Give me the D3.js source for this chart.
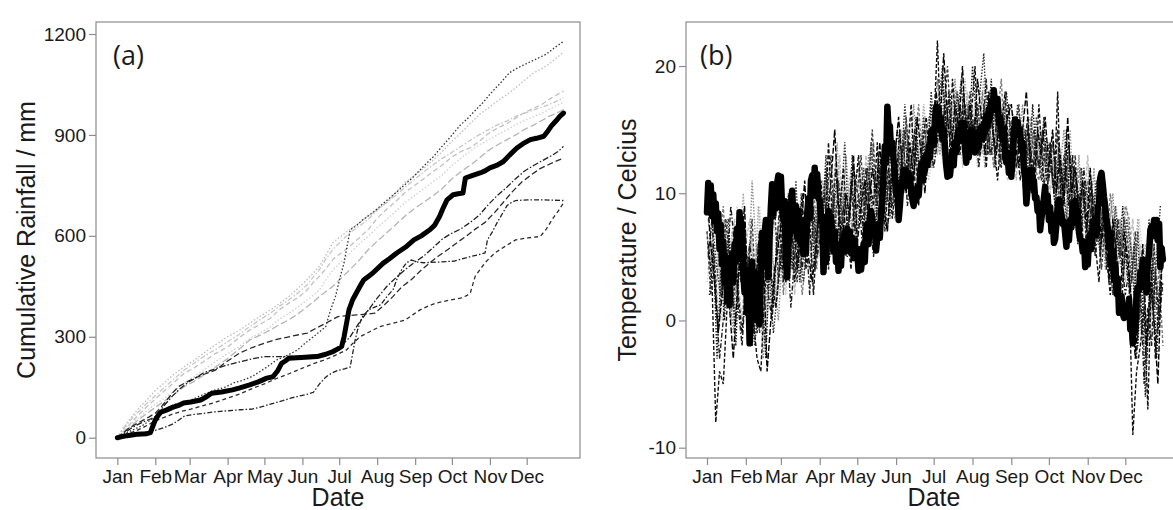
<!DOCTYPE html>
<html><head><meta charset="utf-8">
<script src="https://cdn.jsdelivr.net/npm/d3@7"></script>
<style>
html,body{margin:0;padding:0;background:#fff;}
svg{display:block;font-family:"Liberation Sans",Arial,sans-serif;}
</style></head>
<body><svg id="c" width="1173" height="510"></svg>
<script>
// ---------- shared ----------
const monthLabels = ["Jan","Feb","Mar","Apr","May","Jun","Jul","Aug","Sep","Oct","Nov","Dec"];
const monthStartDays = [0,31,59,90,120,151,181,212,243,273,304,334];

// ---------- panel (a): cumulative rainfall, [day, mm] ----------
const rainTicks = [0,300,600,900,1200];
const rainMean = [[0,0],[4,3],[8,6],[12,8],[16,10],[20,11],[24,12],[27,15],[28,25],[31,53],[34,70],[36,77],[40,82],[45,90],[50,96],[54,103],[60,106],[68,112],[72,120],[77,132],[85,136],[94,142],[100,148],[108,157],[115,166],[122,177],[127,181],[131,200],[134,221],[137,228],[140,236],[150,238],[163,241],[170,248],[176,256],[180,264],[183,271],[185,300],[186,320],[188,360],[189,380],[192,410],[195,430],[198,450],[201,469],[208,488],[217,519],[222,532],[228,549],[235,566],[242,588],[248,600],[255,618],[259,632],[263,658],[266,684],[269,707],[274,722],[278,725],[282,727],[283,750],[284,772],[290,780],[296,787],[300,793],[304,802],[310,810],[315,821],[320,840],[326,861],[331,874],[337,886],[342,890],[348,896],[351,910],[354,926],[358,942],[361,955],[364,965]];
const rainD1 = [[0,0],[6,12],[12,22],[20,35],[31,62],[38,80],[45,97],[52,104],[60,112],[70,128],[80,142],[88,150],[95,163],[102,170],[110,182],[120,205],[130,231],[139,245],[147,261],[153,280],[160,300],[166,318],[170,330],[174,380],[178,420],[182,480],[185,520],[188,580],[190,618],[195,630],[200,647],[208,668],[215,690],[222,712],[230,737],[240,770],[250,807],[258,836],[265,866],[272,895],[280,930],[285,946],[290,965],[298,995],[305,1025],[312,1052],[320,1085],[327,1100],[335,1114],[342,1126],[350,1140],[357,1160],[364,1178]];
const rainD2 = [[0,0],[5,15],[10,30],[16,42],[20,50],[26,62],[31,73],[36,92],[40,110],[45,133],[50,152],[58,168],[65,180],[72,190],[80,201],[90,228],[100,252],[110,268],[120,281],[130,292],[140,300],[148,306],[155,311],[162,325],[170,340],[175,350],[180,360],[188,363],[195,365],[203,367],[210,370],[218,395],[225,420],[232,448],[240,470],[247,495],[255,520],[262,540],[270,560],[278,582],[285,600],[292,620],[300,640],[308,670],[315,700],[322,730],[330,760],[338,782],[345,800],[352,812],[358,822],[364,831]];
const rainD3 = [[0,0],[5,12],[10,25],[15,36],[20,45],[26,54],[31,62],[38,95],[44,120],[50,142],[58,165],[65,180],[70,192],[80,205],[88,214],[95,221],[105,230],[112,236],[120,241],[135,241],[150,243],[162,246],[175,251],[182,270],[190,300],[197,340],[205,380],[212,415],[220,450],[228,478],[235,500],[242,520],[250,540],[258,566],[265,590],[272,606],[280,620],[288,640],[295,660],[302,690],[310,720],[318,745],[325,770],[332,792],[340,810],[348,826],[355,840],[360,852],[364,866]];
const rainD4 = [[0,0],[8,6],[14,11],[20,15],[26,19],[31,22],[38,30],[45,40],[50,52],[55,65],[62,69],[70,72],[80,77],[90,80],[100,83],[110,85],[118,92],[125,100],[135,110],[142,118],[150,125],[156,130],[160,135],[165,160],[170,180],[175,192],[180,200],[186,205],[190,210],[192,250],[194,290],[196,320],[198,342],[200,360],[205,380],[210,388],[215,395],[220,420],[225,440],[228,470],[232,500],[236,520],[240,528],[245,522],[250,520],[262,522],[275,525],[288,538],[300,549],[302,588],[306,612],[310,640],[314,665],[318,690],[322,700],[325,705],[335,707],[345,707],[355,706],[364,705]];
const rainD5 = [[0,0],[7,10],[15,20],[22,32],[31,50],[38,60],[45,70],[52,78],[60,85],[70,95],[80,105],[90,118],[100,130],[110,146],[120,160],[130,176],[140,190],[150,205],[160,220],[168,230],[175,240],[181,250],[187,261],[192,280],[198,300],[206,315],[214,330],[225,340],[235,350],[241,365],[247,380],[254,392],[260,400],[270,408],[280,415],[285,422],[288,430],[290,455],[292,480],[296,500],[300,520],[304,535],[308,549],[316,568],[325,588],[335,594],[345,598],[350,620],[355,650],[360,675],[364,698]];
const rainG1 = [[0,0],[4,25],[8,45],[13,68],[18,90],[24,112],[31,140],[38,162],[45,185],[54,210],[62,228],[70,250],[80,276],[90,300],[99,318],[108,340],[116,360],[125,380],[132,398],[140,420],[148,446],[155,470],[165,510],[171,548],[176,580],[183,600],[190,620],[198,640],[205,660],[212,678],[220,700],[228,732],[235,760],[242,778],[250,800],[258,826],[265,850],[272,878],[280,905],[288,934],[295,960],[302,978],[310,1000],[318,1020],[325,1040],[332,1062],[340,1085],[346,1096],[352,1110],[358,1128],[364,1146]];
const rainG2 = [[0,0],[4,14],[8,30],[13,52],[18,70],[24,92],[31,115],[38,138],[45,160],[54,190],[62,206],[70,225],[80,250],[90,270],[99,296],[108,320],[116,336],[125,355],[132,380],[140,400],[148,418],[155,440],[160,462],[165,480],[170,502],[176,530],[183,550],[190,570],[198,596],[205,620],[212,652],[220,680],[228,705],[235,730],[242,748],[250,770],[258,792],[265,810],[272,832],[280,850],[288,862],[295,880],[302,902],[310,920],[318,934],[325,950],[332,966],[340,980],[346,990],[352,1005],[358,1018],[364,1030]];
const rainG3 = [[0,0],[4,18],[8,35],[13,46],[18,60],[24,80],[31,100],[38,116],[45,135],[54,160],[62,180],[70,200],[80,226],[90,250],[99,270],[108,295],[116,310],[125,330],[132,352],[140,370],[148,390],[155,410],[160,424],[165,440],[170,468],[176,500],[183,524],[190,550],[198,578],[205,600],[212,624],[220,650],[228,676],[235,700],[242,718],[250,740],[258,762],[265,780],[272,806],[280,830],[288,852],[295,870],[302,884],[310,900],[318,916],[325,930],[332,942],[340,955],[346,964],[352,975],[358,986],[364,998]];
const rainG4 = [[0,0],[4,10],[8,25],[13,40],[18,55],[24,72],[31,90],[38,108],[45,125],[54,150],[62,166],[70,185],[80,210],[90,235],[99,262],[108,290],[116,304],[125,320],[132,336],[140,350],[148,370],[155,390],[160,404],[165,420],[170,434],[176,450],[183,476],[190,500],[198,530],[205,560],[212,584],[220,610],[228,636],[235,660],[242,680],[250,700],[258,720],[265,740],[272,766],[280,790],[288,810],[295,830],[302,852],[310,870],[318,886],[325,900],[332,916],[340,930],[346,942],[352,955],[358,964],[364,975]];
const rainG5 = [[0,0],[4,22],[8,40],[13,62],[18,80],[24,102],[31,125],[38,148],[45,170],[54,200],[62,220],[70,240],[80,262],[90,285],[99,306],[108,330],[116,350],[125,370],[132,390],[140,410],[148,432],[155,455],[160,478],[165,500],[170,530],[176,560],[183,586],[190,610],[198,630],[205,650],[212,676],[220,700],[228,722],[235,745],[242,766],[250,790],[258,812],[265,830],[272,846],[280,865],[288,884],[295,900],[302,914],[310,930],[318,942],[325,955],[332,964],[340,975],[346,982],[352,990],[358,1000],[364,1010]];

// ---------- panel (b): temperature ----------
const tempTicks = [-10,0,10,20];
// bold series, one value per day (index = day of year)
const tempMean = [
 8.5,10.8,8.6,10.6,8.2,9.9,7.8,9.2,7.0,8.4,
 5.6,7.5,4.4,6.2,3.0,5.0,1.5,3.8,1.2,4.4,
 5.2,3.0,6.0,4.6,7.2,5.0,8.5,6.2,7.6,3.6,
 2.2,4.0,0.6,3.0,-1.8,1.5,4.6,1.6,3.8,0.6,
 0.0,2.4,-0.3,3.6,6.9,4.2,6.8,7.9,5.6,3.4,
 6.6,8.9,10.7,8.2,10.5,8.8,10.8,11.4,9.6,11.3,
 8.8,7.9,9.4,4.6,3.4,6.0,7.0,9.0,10.2,7.9,
 7.0,9.0,6.6,8.6,6.2,7.9,6.4,5.2,7.2,5.4,
 8.4,9.6,8.0,11.0,11.4,9.8,12.0,10.0,11.5,9.6,
 9.4,7.8,8.2,3.8,6.2,4.6,7.8,8.6,6.4,8.2,
 6.9,5.4,7.0,4.6,6.0,3.9,5.6,4.3,6.4,5.4,
 6.9,5.5,7.2,5.8,7.0,5.3,6.5,4.9,6.3,4.9,
 5.4,3.9,5.6,4.0,4.9,6.0,4.6,7.0,7.6,6.0,
 8.0,8.6,8.0,6.8,7.2,5.5,6.6,7.6,6.5,8.6,
 9.5,11.6,13.7,12.4,16.8,15.1,15.3,13.2,14.0,12.6,
 11.5,10.0,10.8,7.9,9.0,10.6,10.5,11.8,11.0,11.8,
 10.6,11.6,11.3,10.2,9.5,9.0,10.2,9.4,10.5,9.8,
 11.2,12.3,11.0,12.6,11.8,13.0,12.2,13.7,12.8,14.5,
 15.0,13.8,15.8,16.8,15.2,16.6,15.0,15.9,14.3,15.0,
 13.5,12.2,11.3,12.6,11.4,12.4,13.3,12.2,14.0,13.2,
 14.6,15.0,14.1,15.5,14.4,15.5,13.5,12.4,13.6,12.8,
 14.2,15.0,13.8,14.5,13.2,13.9,14.8,13.6,14.5,15.2,
 14.3,15.4,14.8,16.1,15.2,16.6,15.9,17.2,16.5,18.1,
 17.0,16.6,17.4,15.5,16.0,15.0,14.2,15.1,13.0,12.4,
 13.2,11.6,12.4,11.3,12.8,14.5,15.8,14.6,15.6,14.8,
 15.0,13.4,14.0,12.0,11.3,9.2,10.4,11.8,10.6,11.8,
 10.4,11.0,9.6,9.7,8.6,9.2,7.1,8.0,8.8,9.6,
 10.5,8.6,9.8,7.9,8.9,7.0,8.3,6.1,6.4,7.6,
 9.0,9.5,8.9,8.4,7.6,7.8,6.8,5.8,7.6,6.3,
 7.9,7.3,9.2,7.7,9.4,8.3,8.6,6.9,6.4,6.3,
 5.4,6.2,4.2,5.6,4.4,6.3,6.8,5.6,7.8,6.7,
 8.0,6.7,8.9,9.2,11.2,11.6,10.7,9.7,8.9,7.9,
 7.3,5.7,6.9,4.2,5.5,3.2,4.4,2.1,3.3,0.6,
 0.6,1.9,0.5,0.2,0.3,0.3,0.9,1.7,-0.7,-0.3,
 -1.8,0.8,-0.8,2.2,2.6,2.4,3.8,3.5,4.8,2.6,
 3.6,2.2,4.6,5.2,7.1,7.4,6.9,7.9,6.6,7.9,
 6.3,7.6,4.2,5.7,4.8];
// thin series: one value every 3rd day, Jan..Dec
const tempDayStep = 3;
const tempS1 = [6,3,-8,-4,-5,1,4,7,2,-1,3, 5,0,-3,-4,2,6,3,1,4, 7,5,9,3,6,10,4,8,2,7, 11,6,14,8,5,9,12,7,4,10, 13,8,6,11,9,14,7,10,12,8,11, 15,10,13,17,11,9,14,16,12,15, 22,14,17,12,19,15,13,18,14,16, 20,13,16,12,17,14,11,15,18,13, 16,12,14,10,15,13,11,17,12,9, 14,10,18,8,12,9,13,7,10,5,8, 11,6,3,9,5,2,7,4,1,6, 3,-9,-4,-2,1,-7,4,-3,2,5];
const tempS2 = [9,7,4,2,6,8,3,0,5,7,4, 2,-2,1,5,8,3,-1,2,6, 4,8,6,11,5,3,7,9,6,10, 8,13,7,10,6,9,14,8,11,6, 9,12,7,14,10,8,12,9,13,11,15, 12,17,13,10,14,12,16,13,18,14, 17,20,15,18,13,16,19,14,17,15, 14,18,21,15,13,17,14,16,12,15, 13,17,15,12,14,11,16,13,10,14, 12,9,14,11,8,13,10,6,12,9,7, 10,8,5,11,7,4,9,6,3,8, 6,2,7,-1,4,8,1,5,9,6];
const tempS3 = [5,8,2,-3,0,4,9,6,1,-2,3, 6,4,-1,3,7,2,0,5,9, 3,6,1,5,8,4,7,2,9,5, 7,10,4,8,12,6,9,5,11,7, 10,6,12,8,5,9,13,7,11,9,12, 11,14,9,12,15,10,13,11,14,12, 14,16,13,18,12,15,17,13,16,14, 16,12,15,19,13,14,16,12,15,17, 12,15,11,13,16,10,14,12,15,11, 13,10,15,9,11,14,8,11,9,12,6, 9,5,8,11,4,7,3,8,5,2, 4,0,-3,3,-5,1,-2,4,0,3];
const tempS4 = [7,4,9,5,2,6,3,-1,4,8,5, 3,11,6,2,-3,4,7,3,0, 5,9,3,7,4,10,6,8,4,9, 6,9,12,7,10,5,8,13,9,6, 8,11,9,13,7,10,12,9,14,10,8, 13,11,15,12,17,13,11,14,16,12, 15,13,18,16,14,19,15,17,13,16, 13,17,15,12,16,18,14,13,17,15, 15,12,14,17,11,13,15,12,14,10, 11,14,9,12,15,8,11,9,13,7,10, 8,12,6,9,4,7,10,5,8,4, 7,3,6,1,-2,4,0,6,2,4];
const tempS5 = [4,6,1,3,7,2,5,8,3,0,6, 8,4,1,6,-2,3,5,1,7, 9,4,7,2,6,8,5,10,7,4, 10,7,5,11,8,13,6,9,12,8, 11,9,13,7,10,12,8,11,9,13,10, 14,11,12,16,13,11,15,12,14,17, 13,16,14,15,17,13,16,14,18,15, 17,14,13,16,15,12,17,14,16,13, 14,11,16,13,12,15,11,14,13,12, 10,13,11,8,14,10,12,8,11,9,13, 7,10,8,5,9,6,8,4,7,3, 5,8,2,6,3,7,-1,3,6,2];
const tempS6 = [3,5,8,4,0,3,6,2,9,5,2, 4,7,2,9,5,0,4,8,2, 6,2,8,5,9,3,6,4,8,11, 5,8,11,6,9,7,11,6,8,12, 7,10,8,12,9,11,7,13,10,8,12, 10,13,16,12,10,14,12,15,11,13, 16,14,12,17,15,13,16,12,15,14, 15,12,14,17,13,16,12,15,14,11, 12,14,13,11,15,12,10,14,11,13, 9,12,10,13,7,11,9,12,6,10,8, 6,9,7,10,5,8,6,9,5,7, 4,6,3,8,5,2,7,4,1,5];
const tempS7 = [10,6,3,-1,2,5,1,-3,2,6,9, 1,-2,3,7,5,-4,0,4,6, 8,3,5,9,4,7,11,5,3,6, 9,5,8,11,15,9,6,10,8,13, 6,9,11,8,12,10,14,9,7,11,13, 16,12,10,14,11,16,13,10,15,13, 18,15,21,16,13,17,15,20,14,17, 14,19,16,13,18,15,13,17,14,16, 17,14,12,15,18,13,11,15,13,16, 12,15,10,13,9,16,10,12,8,11,7, 12,7,10,6,9,3,8,5,2,7, 5,1,-3,2,6,-2,3,0,-5,4];
const tempS8 = [8,5,2,6,9,4,0,3,7,4,1, 5,2,6,0,3,7,1,4,8, 2,7,5,9,6,2,5,8,11,6, 8,11,6,9,13,7,10,8,6,11, 12,10,7,11,14,9,11,8,12,10,14, 11,15,13,11,14,17,12,14,13,16, 19,15,13,16,14,18,16,13,17,15, 16,14,18,13,15,12,16,19,13,15, 13,16,14,12,13,16,12,11,15,13, 14,11,9,12,10,13,8,10,12,9,11, 9,6,11,7,5,10,7,4,6,9, 8,4,0,5,2,-1,3,1,4,-2];
const tempS9 = [2,6,-3,4,0,7,3,-2,5,8,1, 3,-1,6,2,-3,5,1,7,4, 6,10,4,8,3,7,5,9,4,8, 7,12,5,9,11,6,10,7,13,9, 9,7,12,10,6,13,9,11,8,14,10, 12,15,11,13,16,10,14,12,17,13, 15,19,14,16,13,18,15,17,14,20, 16,13,17,15,19,12,16,14,18,15, 14,16,12,15,11,17,13,12,16,11, 12,9,13,10,15,8,12,10,7,11,9, 8,11,5,9,6,3,8,5,9,4, 2,6,-2,4,-6,1,5,-3,3,6];
const tempS10 = [7,2,5,-1,3,8,5,1,6,3,7, 4,8,2,-1,5,3,6,9,3, 8,4,10,6,3,9,5,7,10,4, 9,6,10,13,7,11,8,5,9,12, 10,13,8,11,15,9,12,10,7,12,9, 13,10,16,12,14,11,13,15,12,14, 17,14,16,20,15,13,17,16,14,18, 15,17,14,16,13,18,15,12,16,14, 13,15,17,12,14,12,15,13,11,14, 11,14,12,9,13,11,9,13,8,10,6, 10,7,9,4,8,6,2,7,5,8, 6,3,7,0,4,-3,2,6,-1,3];
const tempS11 = [5,9,6,3,8,4,7,2,6,10,4, 7,3,9,5,1,8,4,2,6, 4,7,10,6,9,5,8,11,6,9, 11,8,6,10,14,8,11,9,7,10, 12,9,11,14,8,12,10,13,9,12,11, 15,12,14,11,15,13,17,14,12,15, 16,13,17,15,18,14,16,19,15,14, 14,16,19,14,17,13,15,16,14,17, 16,13,15,12,16,14,12,15,12,14, 13,11,14,12,10,15,9,12,11,8,12, 9,11,7,10,6,9,5,8,6,9, 6,4,8,3,6,1,5,8,3,7];

// ---------- drawing ----------
const svg = d3.select("#c");
const boxColor = "#8c8c8c";
const textColor = "#1a1a1a";

function panel(cfg){
  const {left, right, top, bottom, xDomain, yDomain, yTicks, id} = cfg;
  const x = d3.scaleLinear().domain(xDomain).range([left, right]);
  const y = d3.scaleLinear().domain(yDomain).range([bottom, top]);
  svg.append("clipPath").attr("id", id).append("rect")
    .attr("x", left).attr("y", top).attr("width", right-left).attr("height", bottom-top);
  const g = svg.append("g").attr("clip-path", `url(#${id})`);

  const ya = svg.append("g").attr("transform", `translate(${left},0)`)
    .call(d3.axisLeft(y).tickValues(yTicks).tickFormat(d=>String(d)).tickSize(7).tickPadding(3));
  const xa = svg.append("g").attr("transform", `translate(0,${bottom})`)
    .call(d3.axisBottom(x).tickValues(monthStartDays).tickFormat((d,i)=>monthLabels[i]).tickSize(7).tickPadding(5));
  [ya, xa].forEach(a=>{
    a.attr("font-family", null).attr("font-size", null);
    a.select(".domain").remove();
    a.selectAll(".tick line").attr("stroke", boxColor).attr("stroke-width", 1.2);
    a.selectAll(".tick text").attr("fill", textColor).style("font-size", "19px")
      .style("font-family", "'Liberation Sans', Arial, sans-serif");
  });
  svg.append("rect").attr("x", left).attr("y", top).attr("width", right-left).attr("height", bottom-top)
    .attr("fill", "none").attr("stroke", boxColor).attr("stroke-width", 1.2);
  return {x, y, g};
}

// Panel (a)
const pa = panel({id:"clipA", left:96, right:580, top:22, bottom:458,
  xDomain:[-17.4, 377.5], yDomain:[-60.4, 1235.7], yTicks: rainTicks});
const lineA = d3.line().x(d=>pa.x(d[0])).y(d=>pa.y(d[1]));
const rainThin = [
  {d: rainG3, c:"#d0d0d0", dash:"1.5,2"},
  {d: rainG5, c:"#c6c6c6", dash:"5,2,1.5,2"},
  {d: rainG2, c:"#c0c0c0", dash:"5,3"},
  {d: rainG4, c:"#b4b4b4", dash:"7,3"},
  {d: rainG1, c:"#bcbcbc", dash:"1.5,2"},
  {d: rainD5, c:"#2e2e2e", dash:"4,3"},
  {d: rainD4, c:"#222222", dash:"5,2,1.5,2"},
  {d: rainD2, c:"#2a2a2a", dash:"6,3"},
  {d: rainD3, c:"#202020", dash:"6,2,1.5,2"},
  {d: rainD1, c:"#333333", dash:"1.5,2"}
];
rainThin.forEach(s=>{
  pa.g.append("path").attr("d", lineA(s.d)).attr("fill","none")
    .attr("stroke", s.c).attr("stroke-width", 1.3).attr("stroke-dasharray", s.dash);
});
pa.g.append("path").attr("d", lineA(rainMean)).attr("fill","none")
  .attr("stroke","#000").attr("stroke-width",5).attr("stroke-linejoin","round").attr("stroke-linecap","round");

// Panel (b)
const pb = panel({id:"clipB", left:686, right:1182, top:22, bottom:458,
  xDomain:[(686-707)/1.2524, (1182-707)/1.2524], yDomain:[-10.81, 23.46], yTicks: tempTicks});
const tempThin = [
  {d: tempS6, c:"#cdcdcd", dash:"1.5,1.5", off:0},
  {d: tempS5, c:"#bdbdbd", dash:"4,2", off:1},
  {d: tempS11, c:"#a8a8a8", dash:"1.5,1.5", off:2},
  {d: tempS4, c:"#8f8f8f", dash:"1.5,1.5", off:0},
  {d: tempS8, c:"#7a7a7a", dash:"3,2", off:1},
  {d: tempS2, c:"#333333", dash:"1.5,1.5", off:2},
  {d: tempS10, c:"#3c3c3c", dash:"3,2", off:0},
  {d: tempS3, c:"#1e1e1e", dash:"5,2,1.5,2", off:1},
  {d: tempS9, c:"#1a1a1a", dash:"1.5,1.5", off:2},
  {d: tempS7, c:"#000000", dash:"6,2", off:0},
  {d: tempS1, c:"#111111", dash:"4,2", off:1}
];
tempThin.forEach(s=>{
  const ln = d3.line().x((d,i)=>pb.x(s.off + i*tempDayStep)).y(d=>pb.y(d));
  pb.g.append("path").attr("d", ln(s.d.filter((d,i)=>s.off + i*tempDayStep <= 364)))
    .attr("fill","none").attr("stroke", s.c).attr("stroke-width", 1.4).attr("stroke-dasharray", s.dash);
});
const lineMean = d3.line().x((d,i)=>pb.x(i)).y(d=>pb.y(d));
pb.g.append("path").attr("d", lineMean(tempMean)).attr("fill","none")
  .attr("stroke","#000").attr("stroke-width",6.5).attr("stroke-linejoin","round").attr("stroke-linecap","round");

// Titles / labels
svg.append("text").attr("x",113).attr("y",65).text("(a)")
  .style("font-family","'Open Sans','Noto Sans',sans-serif").style("font-size","27px").attr("fill",textColor);
svg.append("text").attr("x",700).attr("y",65).text("(b)")
  .style("font-family","'Open Sans','Noto Sans',sans-serif").style("font-size","27px").attr("fill",textColor);

svg.append("text").attr("transform","translate(35,240) rotate(-90)").attr("text-anchor","middle")
  .style("font-size","25px").attr("fill",textColor).text("Cumulative Rainfall / mm");
svg.append("text").attr("transform","translate(636,240) rotate(-90)").attr("text-anchor","middle")
  .style("font-size","25px").attr("fill",textColor).text("Temperature / Celcius");

svg.append("text").attr("x",338).attr("y",506).attr("text-anchor","middle")
  .style("font-size","25px").attr("fill",textColor).text("Date");
svg.append("text").attr("x",934).attr("y",506).attr("text-anchor","middle")
  .style("font-size","25px").attr("fill",textColor).text("Date");
</script></body></html>
